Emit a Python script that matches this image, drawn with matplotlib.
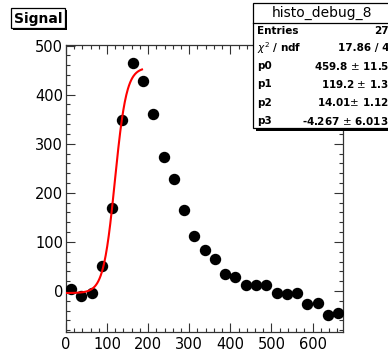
import numpy as np
import matplotlib
matplotlib.use("Agg")
import matplotlib.pyplot as plt
from matplotlib.patches import Rectangle
from matplotlib.ticker import MultipleLocator

# dane histogramu (27 binów po 25)
bin_centers = np.arange(12.5, 675, 25)
counts = [3, -10, -5, 51, 170, 348, 465, 427, 360, 273, 229, 165, 113, 83, 66,
          34, 28, 12, 12, 13, -4, -7, -5, -27, -24, -49, -45]

# parametry dopasowania (z ramki statystyk)
p0, p1, p2, p3 = 459.8, 119.2, 14.01, -4.267
p_err = [11.5, 1.3, 1.12, 6.013]
fit_range = (0, 185)
entries = 27
chi2, ndf = 17.86, 4

fig = plt.figure(figsize=(3.88, 3.54), dpi=100)
ax = fig.add_axes([0.170, 0.063, 0.715, 0.811])

ax.plot(bin_centers, counts, 'o', color='black', markersize=7.2, zorder=3)

xf = np.linspace(fit_range[0], fit_range[1], 200)
yf = p3 + p0 / (1 + np.exp(-(xf - p1) / p2))
ax.plot(xf, yf, color='red', lw=1.5, zorder=4)

ax.set_xlim(0, 675)
ax.set_ylim(-83, 502)
ax.xaxis.set_major_locator(MultipleLocator(100))
ax.xaxis.set_minor_locator(MultipleLocator(20))
ax.yaxis.set_major_locator(MultipleLocator(100))
ax.yaxis.set_minor_locator(MultipleLocator(20))
ax.tick_params(which='both', direction='in', top=True, right=True,
               labelsize=10.5, color='#333333', width=0.8)
ax.tick_params(which='major', length=6.5)
ax.tick_params(which='minor', length=3.2)
ax.tick_params(axis='y', pad=2)
ax.tick_params(axis='x', pad=4)
for s in ax.spines.values():
    s.set_linewidth(0.9)
    s.set_color('#333333')

W, H = 388.0, 354.0

def box(x0, y0, x1, y1, shadow=3):
    # prostokąt w pikselach (od góry), z cieniem jak w ROOT
    fig.patches.append(Rectangle((x0 + shadow) / W * np.array([1, 0]) + np.array([0, 1 - (y1 + shadow) / H]),
                                 (x1 - x0) / W, (y1 - y0) / H, transform=fig.transFigure,
                                 facecolor='black', edgecolor='none', zorder=5))
    fig.patches.append(Rectangle((x0 / W, 1 - y1 / H), (x1 - x0) / W, (y1 - y0) / H,
                                 transform=fig.transFigure, facecolor='white',
                                 edgecolor='black', lw=0.9, zorder=6))

# tytuł
box(11, 8, 65, 28, shadow=2)
fig.text(38 / W, 1 - 18.5 / H, 'Signal', ha='center', va='center',
         fontsize=10, fontweight='bold', zorder=7)

# ramka statystyk
box(253, 3, 392, 128, shadow=3)
fig.add_artist(plt.Line2D([253 / W, 1], [1 - 23 / H] * 2, color='black', lw=0.9, zorder=7))
fig.text(322 / W, 1 - 13 / H, 'histo_debug_8', ha='center', va='center',
         fontsize=10, zorder=7)

rows = [('Entries', f'{entries}'),
        (r'$\chi^{2}$ / ndf', f'{chi2} / {ndf}'),
        ('p0', f'{p0} $\\pm$ {p_err[0]}'),
        ('p1', f'{p1} $\\pm$ {p_err[1]}'),
        ('p2', f'{p2}$\\pm$ {p_err[2]}'),
        ('p3', f'{p3} $\\pm$ {p_err[3]}')]
ys = [31, 48.5, 66, 84, 102.5, 121]
for (lab, val), yy in zip(rows, ys):
    fig.text(257 / W, 1 - yy / H, lab, ha='left', va='center',
             fontsize=7.5, fontweight='bold', zorder=7)
    fig.text(389 / W, 1 - yy / H, val, ha='right', va='center',
             fontsize=7.5, fontweight='bold', zorder=7)

fig.savefig('out.png', dpi=100)
